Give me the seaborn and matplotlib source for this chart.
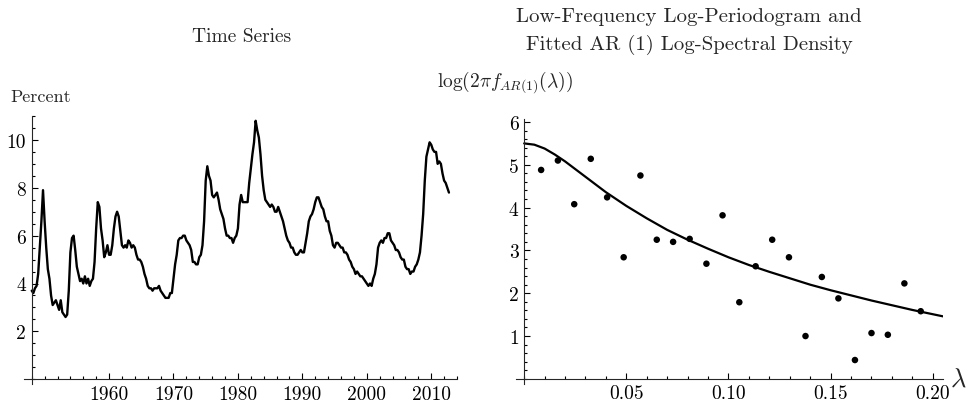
import numpy as np
import pandas as pd
import seaborn as sns
import matplotlib.pyplot as plt
from matplotlib.ticker import FixedLocator, MultipleLocator

# Unemployment rate, quarterly readings 1948 Q1 .. 2012 Q4 (percent)
unemp = [
    3.7, 3.6, 3.8, 3.9,   4.4, 5.5, 6.6, 7.9,   6.6, 5.5, 4.6, 4.2,   3.5, 3.1, 3.2, 3.3,
    3.1, 2.9, 3.3, 2.8,   2.7, 2.6, 2.7, 3.7,   5.3, 5.9, 6.0, 5.4,   4.7, 4.4, 4.1, 4.2,
    4.0, 4.3, 4.0, 4.2,   3.9, 4.1, 4.2, 4.9,   6.3, 7.4, 7.2, 6.3,   5.8, 5.1, 5.3, 5.6,
    5.2, 5.2, 5.6, 6.3,   6.8, 7.0, 6.8, 6.2,   5.6, 5.5, 5.6, 5.5,   5.8, 5.7, 5.5, 5.6,
    5.5, 5.2, 5.0, 5.0,   4.9, 4.7, 4.4, 4.2,   3.9, 3.8, 3.8, 3.7,   3.8, 3.8, 3.8, 3.9,
    3.7, 3.6, 3.5, 3.4,   3.4, 3.4, 3.6, 3.6,   4.2, 4.8, 5.2, 5.8,   5.9, 5.9, 6.0, 6.0,
    5.8, 5.7, 5.6, 5.4,   4.9, 4.9, 4.8, 4.8,   5.1, 5.2, 5.6, 6.6,   8.3, 8.9, 8.5, 8.3,
    7.7, 7.6, 7.7, 7.8,   7.5, 7.1, 6.9, 6.7,   6.3, 6.0, 6.0, 5.9,   5.9, 5.7, 5.9, 6.0,
    6.3, 7.3, 7.7, 7.4,   7.4, 7.4, 7.4, 8.2,   8.8, 9.4, 9.9, 10.8,  10.4, 10.1, 9.4, 8.5,
    7.9, 7.5, 7.4, 7.3,   7.2, 7.3, 7.2, 7.0,   7.0, 7.2, 7.0, 6.8,   6.6, 6.3, 6.0, 5.8,
    5.7, 5.5, 5.5, 5.3,   5.2, 5.2, 5.3, 5.4,   5.3, 5.3, 5.7, 6.1,   6.6, 6.8, 6.9, 7.1,
    7.4, 7.6, 7.6, 7.4,   7.2, 7.1, 6.8, 6.6,   6.6, 6.2, 6.0, 5.6,   5.5, 5.7, 5.7, 5.6,
    5.5, 5.5, 5.3, 5.3,   5.2, 5.0, 4.9, 4.7,   4.6, 4.4, 4.5, 4.4,   4.3, 4.3, 4.2, 4.1,
    4.0, 3.9, 4.0, 3.9,   4.2, 4.4, 4.8, 5.5,   5.7, 5.8, 5.7, 5.9,   5.9, 6.1, 6.1, 5.8,
    5.7, 5.6, 5.4, 5.4,   5.3, 5.1, 5.0, 5.0,   4.7, 4.6, 4.6, 4.4,   4.5, 4.5, 4.7, 4.8,
    5.0, 5.3, 6.0, 6.9,   8.3, 9.3, 9.6, 9.9,   9.8, 9.6, 9.5, 9.5,   9.0, 9.1, 9.0, 8.6,
    8.3, 8.2, 8.0, 7.8,
]
years = 1948 + 0.25 * np.arange(len(unemp))

# Log-periodogram ordinates at the first 24 Fourier frequencies
freq = [0.0083, 0.0165, 0.0245, 0.0326, 0.0406, 0.0487, 0.0569, 0.0649,
        0.0729, 0.0810, 0.0892, 0.0971, 0.1053, 0.1133, 0.1214, 0.1296,
        0.1377, 0.1457, 0.1538, 0.1619, 0.1700, 0.1780, 0.1861, 0.1941]
logpgram = [4.88, 5.10, 4.08, 5.14, 4.24, 2.84, 4.75, 3.25,
            3.20, 3.27, 2.69, 3.82, 1.79, 2.63, 3.25, 2.84,
            1.00, 2.38, 1.88, 0.44, 1.07, 1.03, 2.23, 1.58]

# Fitted AR(1) log-spectral density
fit_freq = [0.0, 0.005, 0.01, 0.015, 0.02, 0.025, 0.03, 0.04, 0.05, 0.06, 0.07,
            0.08, 0.09, 0.10, 0.11, 0.12, 0.13, 0.14, 0.15, 0.16, 0.17, 0.18,
            0.19, 0.20, 0.205]
fit_logsd = [5.50, 5.47, 5.38, 5.24, 5.08, 4.90, 4.72, 4.36, 4.04, 3.75, 3.48,
             3.25, 3.04, 2.84, 2.66, 2.50, 2.35, 2.20, 2.07, 1.95, 1.83, 1.72,
             1.61, 1.51, 1.46]

sns.set_style("ticks")
plt.rcParams['font.family'] = ['cmr10', 'DejaVu Serif']
plt.rcParams['mathtext.fontset'] = 'cm'
plt.rcParams['axes.unicode_minus'] = False
plt.rcParams['axes.formatter.use_mathtext'] = True

fig = plt.figure(figsize=(9.7, 4.06), dpi=100)
W, H = 970, 406
ax1 = fig.add_axes([24 / W, 21 / H, 433 / W, 268 / H])
ax2 = fig.add_axes([516 / W, 21 / H, 427 / W, 265 / H])

ts = pd.DataFrame({'year': years, 'rate': unemp})
sns.lineplot(data=ts, x='year', y='rate', ax=ax1, color='black', linewidth=1.7)

pg = pd.DataFrame({'lam': freq, 'val': logpgram})
sns.scatterplot(data=pg, x='lam', y='val', ax=ax2, color='black', s=22,
                edgecolor='none', zorder=3)
fit = pd.DataFrame({'lam': fit_freq, 'val': fit_logsd})
sns.lineplot(data=fit, x='lam', y='val', ax=ax2, color='black', linewidth=1.6)

for ax in (ax1, ax2):
    ax.set_xlabel('')
    ax.set_ylabel('')
    ax.set_facecolor('white')
    for side in ('top', 'right'):
        ax.spines[side].set_visible(False)
    for side in ('left', 'bottom'):
        ax.spines[side].set_linewidth(0.8)
    ax.tick_params(which='both', direction='in', width=0.8, labelsize=14,
                   colors='black', pad=4)
    ax.tick_params(which='major', length=4)
    ax.tick_params(which='minor', length=2.2)

# left panel axes
ax1.set_xlim(1946.8, 2014)
ax1.set_ylim(-0.2, 11)
ax1.spines['left'].set_position(('data', 1948))
ax1.spines['bottom'].set_position(('data', 0))
ax1.xaxis.set_major_locator(FixedLocator([1960, 1970, 1980, 1990, 2000, 2010]))
ax1.xaxis.set_minor_locator(FixedLocator(np.arange(1948, 2015, 2)))
ax1.set_xticklabels(['1960', '1970', '1980', '1990', '2000', '2010'])
ax1.yaxis.set_major_locator(FixedLocator([2, 4, 6, 8, 10]))
ax1.yaxis.set_minor_locator(MultipleLocator(0.5))
ax1.set_yticklabels(['2', '4', '6', '8', '10'])

# right panel axes
ax2.set_xlim(-0.004, 0.205)
ax2.set_ylim(-0.12, 6.07)
ax2.spines['left'].set_position(('data', 0))
ax2.spines['bottom'].set_position(('data', 0))
ax2.xaxis.set_major_locator(FixedLocator([0.05, 0.10, 0.15, 0.20]))
ax2.xaxis.set_minor_locator(MultipleLocator(0.01))
ax2.set_xticklabels(['0.05', '0.10', '0.15', '0.20'])
ax2.yaxis.set_major_locator(FixedLocator([1, 2, 3, 4, 5, 6]))
ax2.yaxis.set_minor_locator(MultipleLocator(0.2))
ax2.set_yticklabels(['1', '2', '3', '4', '5', '6'])

# titles and axis labels
fig.text(242 / W, 1 - 37 / H, 'Time Series', ha='center', va='center', fontsize=14)
fig.text(689 / W, 1 - 17 / H, 'Low-Frequency Log-Periodogram and',
         ha='center', va='center', fontsize=15)
fig.text(689 / W, 1 - 45 / H, 'Fitted AR (1) Log-Spectral Density',
         ha='center', va='center', fontsize=15)
fig.text(10 / W, 1 - 97 / H, 'Percent', ha='left', va='center', fontsize=13)
fig.text(437 / W, 1 - 82 / H, r'$\log(2\pi f_{AR(1)}(\lambda))$',
         ha='left', va='center', fontsize=14)
fig.text(958 / W, 1 - 380 / H, r'$\lambda$', ha='center', va='center', fontsize=19)

fig.savefig('out.png', dpi=100, facecolor='white')
